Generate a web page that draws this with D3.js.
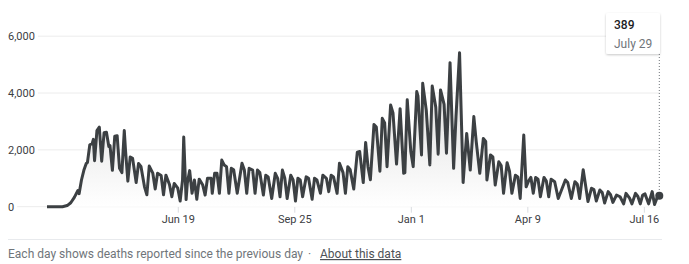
<!DOCTYPE html>
<html>
<head>
<meta charset="utf-8">
<script src="https://cdn.jsdelivr.net/npm/d3@7"></script>
<style>
  html, body { margin: 0; padding: 0; background: #fff; }
  svg { display: block; font-family: Roboto, Arial, sans-serif; }
</style>
</head>
<body>
<svg id="chart" width="689" height="264"></svg>
<script>
// ---- data ----
const startDay = "2020-03-01";
const endDay = "2021-07-29";
// days since startDay at each turning point of the daily series
const dayIndex = [0,13,17,20,23,26,27,29,31,33,34,36,38,39,40,42,44,46,48,50,52,53,55,57,59,61,63,65,66,68,70,72,75,77,79,82,84,86,89,91,93,96,98,100,103,105,107,110,112,114,115,117,118,120,122,124,126,128,131,133,135,138,139,141,143,145,147,149,151,153,155,157,160,164,166,168,170,173,175,177,179,182,184,186,189,192,194,196,198,200,202,205,207,209,211,213,215,218,220,223,225,227,230,232,235,237,239,241,244,246,249,251,253,255,258,261,263,266,268,270,272,275,277,280,282,284,286,289,291,294,297,300,301,303,306,308,311,312,315,316,319,322,324,327,329,331,334,336,339,342,344,347,350,353,356,359,361,364,367,369,370,373,375,377,380,382,384,387,389,391,394,396,398,401,403,405,407,409,411,413,415,418,420,422,424,427,430,436,438,441,444,446,448,451,453,455,458,460,462,465,467,469,472,474,476,479,482,485,487,490,492,495,497,499,501,503,506,509,511,514,515];
const deaths = [0,0,40,140,330,570,460,940,1280,1520,1550,2180,2220,2370,1620,2680,2800,1600,2600,2620,2120,2150,1280,2480,2500,1350,1200,2680,2000,900,1750,1700,850,1520,1420,700,420,1430,1180,620,1180,1100,420,1110,780,350,820,650,200,940,2450,250,820,1270,470,940,260,970,760,410,1000,1000,470,1175,1175,470,1640,1470,1410,470,1350,1300,470,1530,1290,470,1350,1290,470,1290,1200,410,1110,1050,290,1175,1000,350,1290,1000,290,1110,940,200,1000,940,350,1050,1000,260,1000,940,470,1110,1000,530,1110,1050,470,1530,1200,470,1410,1300,620,1920,1940,850,2260,1400,950,2890,2800,1250,3110,2950,1410,3580,3300,1500,3450,1175,1200,3760,1940,1410,4050,3900,1820,4340,3400,1470,4250,3500,1850,4110,3600,1880,5070,1350,3170,5420,850,2580,1290,3170,2300,1175,2400,2300,940,1820,1750,760,1580,1450,470,1550,1250,470,1110,1050,290,2520,700,900,1030,470,1030,970,350,1030,900,350,970,880,290,940,850,290,880,800,290,1300,750,180,650,600,200,590,500,130,530,420,150,410,350,100,470,300,100,470,360,100,410,450,100,530,80,410,389];
const yTicks = [0, 2000, 4000, 6000];
const xTickDates = ["2020-06-19", "2020-09-25", "2021-01-01", "2021-04-09", "2021-07-16"];
const xTickLabels = ["Jun 19", "Sep 25", "Jan 1", "Apr 9", "Jul 16"];
const tooltipValue = "389";
const tooltipDate = "July 29";
const footerText = "Each day shows deaths reported since the previous day";
const footerLink = "About this data";

// ---- chart ----
const parse = d3.utcParse("%Y-%m-%d");
const t0 = parse(startDay);
const series = dayIndex.map((d, i) => ({ date: d3.utcDay.offset(t0, d), value: deaths[i] }));

const svg = d3.select("#chart");
const x = d3.scaleUtc().domain([t0, parse(endDay)]).range([47, 659.3]);
const y = d3.scaleLinear().domain([0, 6000]).range([206.7, 36.2]);

// y labels + gridlines
const yg = svg.append("g");
yTicks.forEach(v => {
  const t = yg.append("text")
    .attr("x", 8).attr("y", y(v) + 4)
    .attr("font-size", 11).attr("fill", "#3c4043")
    .text(d3.format(",")(v));
  const w = t.node().getComputedTextLength();
  yg.insert("line", "text")
    .attr("x1", 8 + w + 3).attr("x2", 660)
    .attr("y1", y(v)).attr("y2", y(v))
    .attr("stroke", "#ececec").attr("stroke-width", 1);
});

// x axis
const xAxis = d3.axisBottom(x)
  .tickValues(xTickDates.map(parse))
  .tickFormat((d, i) => xTickLabels[i])
  .tickSize(6).tickPadding(3);
const xg = svg.append("g").attr("transform", `translate(0,${y(0)})`).call(xAxis);
xg.select(".domain").remove();
xg.selectAll(".tick line").attr("stroke", "#dadce0");
xg.selectAll(".tick text").attr("font-size", 11).attr("fill", "#3c4043").attr("font-family", "Roboto, Arial, sans-serif");

// gradient area
const defs = svg.append("defs");
const grad = defs.append("linearGradient").attr("id", "areaGrad")
  .attr("gradientUnits", "userSpaceOnUse")
  .attr("x1", 0).attr("x2", 0).attr("y1", y(5400)).attr("y2", y(0));
grad.append("stop").attr("offset", 0).attr("stop-color", "#d6d6d6");
grad.append("stop").attr("offset", 1).attr("stop-color", "#ffffff");

svg.append("path").datum(series)
  .attr("fill", "url(#areaGrad)")
  .attr("d", d3.area().x(d => x(d.date)).y0(y(0)).y1(d => y(d.value)));

svg.append("path").datum(series)
  .attr("fill", "none")
  .attr("stroke", "#3c4043")
  .attr("stroke-width", 3)
  .attr("stroke-linejoin", "round")
  .attr("d", d3.line().x(d => x(d.date)).y(d => y(d.value)));

// tooltip
const last = series[series.length - 1];
const lx = x(last.date);
svg.append("line")
  .attr("x1", lx).attr("x2", lx).attr("y1", 54).attr("y2", y(last.value))
  .attr("stroke", "#70757a").attr("stroke-width", 1).attr("stroke-dasharray", "1,2");
svg.append("circle").attr("cx", lx).attr("cy", y(last.value)).attr("r", 4).attr("fill", "#3c4043");

const filt = defs.append("filter").attr("id", "shadow").attr("x", "-20%").attr("y", "-20%").attr("width", "140%").attr("height", "160%");
filt.append("feDropShadow").attr("dx", 0).attr("dy", 1).attr("stdDeviation", 1.2).attr("flood-color", "#000").attr("flood-opacity", 0.22);
svg.append("rect").attr("x", 606).attr("y", 13).attr("width", 54).attr("height", 41)
  .attr("rx", 2).attr("fill", "#fff").attr("filter", "url(#shadow)");
svg.append("text").attr("x", 614).attr("y", 28.5).attr("font-size", 12).attr("font-weight", 500).attr("fill", "#202124").text(tooltipValue);
svg.append("text").attr("x", 614).attr("y", 48).attr("font-size", 12).attr("fill", "#70757a").text(tooltipDate);

// footer
svg.append("line").attr("x1", 8).attr("x2", 662).attr("y1", 239.5).attr("y2", 239.5).attr("stroke", "#e8eaed");
const ft = svg.append("text").attr("x", 8).attr("y", 258).attr("font-size", 12).attr("fill", "#70757a").text(footerText);
const fw = ft.node().getComputedTextLength();
svg.append("text").attr("x", 8 + fw + 5).attr("y", 258).attr("font-size", 12).attr("fill", "#70757a").text("·");
svg.append("text").attr("x", 8 + fw + 17).attr("y", 258).attr("font-size", 12).attr("fill", "#4d5156")
  .attr("text-decoration", "underline").text(footerLink);
</script>
</body>
</html>
